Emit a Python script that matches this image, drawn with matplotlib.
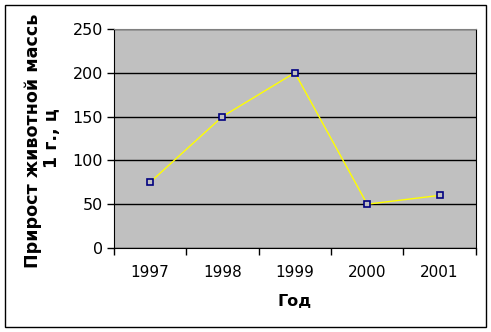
import matplotlib.pyplot as plt
from matplotlib.patches import Rectangle
from matplotlib.transforms import Bbox

years = ['1997', '1998', '1999', '2000', '2001']
gain = [75, 150, 200, 50, 60]

fig = plt.figure(figsize=(4.91, 3.32), dpi=100)
ax = fig.add_axes([0.232, 0.253, 0.737, 0.660])
ax.set_facecolor('#c0c0c0')

xs = [i + 0.5 for i in range(len(years))]
ax.plot(xs, gain, color='#ffff00', lw=1, marker='s', ms=4.5,
        mfc='#c0c0c0', mec='#000080', mew=1.2, zorder=3)

ax.set_xlim(0, len(years))
ax.set_ylim(0, 250)
ax.set_yticks(range(0, 251, 50))
ax.set_xticks(range(len(years) + 1))
ax.set_xticklabels([])
ax.set_xticks(xs, minor=True)
ax.set_xticklabels(years, minor=True)
ax.tick_params(axis='x', which='minor', length=0, pad=12, labelsize=11)
ax.tick_params(axis='x', which='major', length=5, direction='out', width=1)
ax.tick_params(axis='y', length=5, direction='out', width=1, labelsize=11.5, pad=3)
ax.grid(axis='y', color='black', lw=1)
ax.set_axisbelow(True)
ax.spines['top'].set_color('#808080')
for s in ['left', 'bottom', 'right']:
    ax.spines[s].set_color('black')

ax.set_xlabel('Год', fontsize=11.5, fontweight='bold', labelpad=10)
yl = ax.set_ylabel('Прирост животной массы\n1 г., ц', fontsize=12.6,
                   fontweight='bold', labelpad=8, linespacing=1.1)
yl.set_clip_on(True)
yl.set_clip_box(Bbox.from_extents(0, 0, 491, 332 - 15))

fig.patches.append(Rectangle((5 / 491, 5 / 332), 481 / 491, 322 / 332,
                             transform=fig.transFigure, fill=False,
                             edgecolor='black', lw=1))

fig.savefig('out.png', dpi=100)
